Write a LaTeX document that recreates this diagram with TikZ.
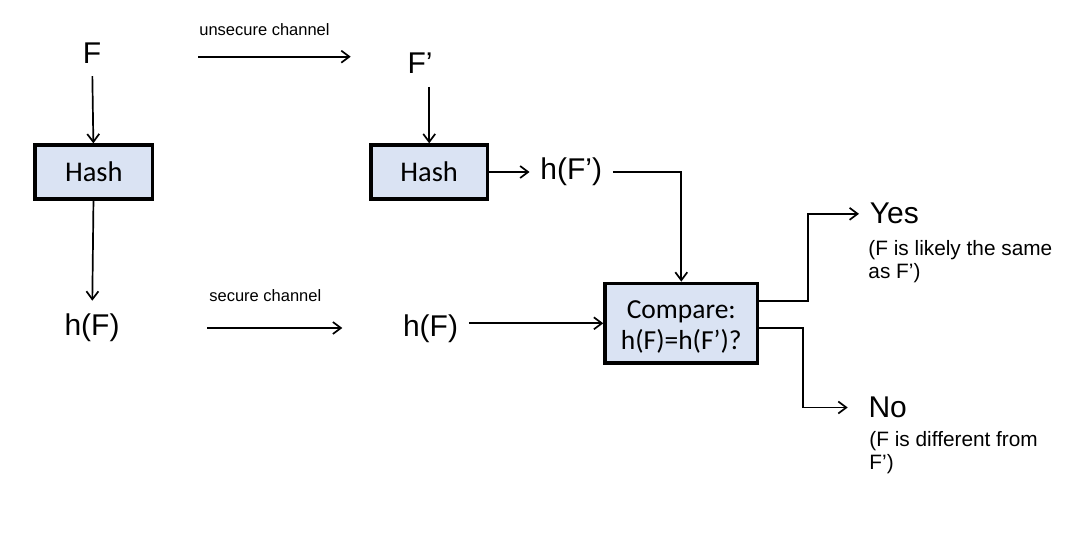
\documentclass[tikz,border=0pt]{standalone}
\usepackage{fontspec}
\setmainfont{Liberation Sans}
\newfontfamily\boxfont{Carlito}
\usetikzlibrary{positioning, arrows.meta}
\definecolor{boxblue}{RGB}{218,227,243}

\begin{document}
\begin{tikzpicture}[x=1pt, y=-1pt, line width=1.7pt,
	>={Straight Barb[length=8pt,width=12pt]},
	msg/.style={font=\fontsize{30}{36}\selectfont, inner xsep=10pt, inner ysep=12pt},
	chan/.style={font=\fontsize{16.5}{19}\selectfont, inner sep=0pt},
	note/.style={font=\fontsize{20.8}{23.5}\selectfont, align=left, inner sep=0pt},
	hashbox/.style={draw, line width=3.6pt, fill=boxblue, font=\boxfont\fontsize{28.5}{33}\selectfont, minimum height=53.7pt}]
	\useasboundingbox (0,0) rectangle (1082,534);

	\node (f) [msg, anchor=base] at (92,63.3) {F};
	\node (hash1) [hashbox, minimum width=117.4pt] at (93.8,172) {Hash};
	\node (hf1) [msg, anchor=base] at (92,335.3) {h(F)};
	\node (fp) [msg, anchor=base] at (420,74) {F’};
	\node (hash2) [hashbox, minimum width=116.3pt] at (429.2,172) {Hash};
	\node (hfp) [msg, right=40.4pt of hash2] {h(F’)};
	\node (hf2) [msg, anchor=base] at (430.5,336.3) {h(F)};
	\node (cmp) [hashbox, align=center, minimum width=152.4pt, minimum height=79.7pt,
		font=\boxfont\fontsize{27.5}{31.5}\selectfont] at (681.3,323.3) {\rule{0pt}{25pt}Compare:\\h(F)=h(F’)?};
	\node (yes) [msg, anchor=base west] at (859,224) {Yes};
	\node (yesnote) [note, anchor=north west] at (867.6,239.4) {(F is likely the same\\as F’)};
	\node (no) [msg, anchor=base west] at (857.7,417.7) {No};
	\node (nonote) [note, anchor=north west] at (868.6,430.5) {(F is different from\\F’)};

	% channels
	\node (uchan) [chan, anchor=base west] at (198.5,35.7) {unsecure channel};
	\coordinate (u1) at (198.3,56.7);
	\coordinate (u2) at (350.7,56.7);
	\node (schan) [chan, anchor=base west] at (208.5,302) {secure channel};
	\coordinate (s1) at (207.3,328);
	\coordinate (s2) at (342.3,328);

	\path [->]
		(f) edge (hash1)
		(hash1) edge (hf1)
		(u1) edge (u2)
		(s1) edge (s2)
		(fp.south -| hash2) edge (hash2)
		(hash2) edge (hfp)
		(hf2.east |- cmp) edge (cmp)
	;
	\draw [->] (hfp) -| (cmp);
	\draw [->] ([yshift=22.6pt]cmp.east) -- ++(48.4,0) |- (yes);
	\draw [->, shorten >=10pt] ([yshift=-4.7pt]cmp.east) -- ++(43.4,0) |- (no);
\end{tikzpicture}
\end{document}
